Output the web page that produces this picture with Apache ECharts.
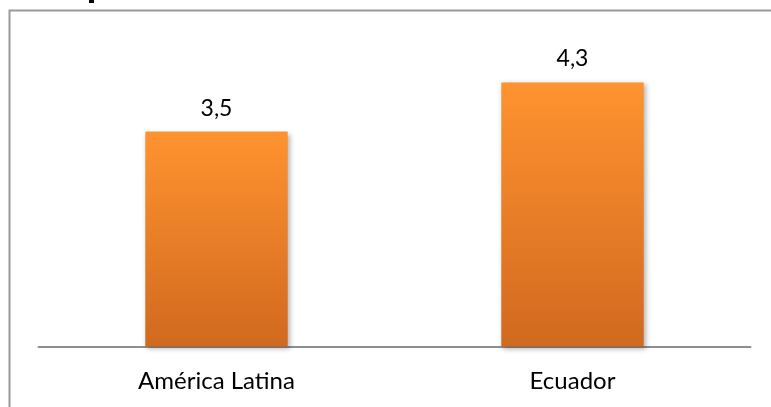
<!DOCTYPE html>
<html><head><meta charset="utf-8">
<script src="https://cdn.jsdelivr.net/npm/echarts@6/dist/echarts.min.js"></script>
<style>html,body{margin:0;padding:0;background:#fff}#c{width:771px;height:407px}</style>
</head><body><div id="c"></div>
<script>
const categories = ['América Latina', 'Ecuador'];
const values = [3.5, 4.3];

const chart = echarts.init(document.getElementById('c'), null, {renderer: 'canvas'});
chart.setOption({
  animation: false,
  backgroundColor: '#ffffff',
  graphic: [
    {type: 'rect', shape: {x: 9.5, y: 10.5, width: 900, height: 600}, style: {fill: 'none', stroke: '#9a9a9a', lineWidth: 2}},
    {type: 'rect', shape: {x: 89, y: 0, width: 5, height: 3}, style: {fill: '#000'}}
  ],
  grid: {left: 38.5, right: 20.5, top: 39.5, bottom: 60.5},
  xAxis: {
    type: 'category', data: categories,
    axisLine: {lineStyle: {color: '#8f8f8f', width: 2}},
    axisTick: {show: false},
    axisLabel: {color: '#000', fontFamily: 'Lato', fontSize: 24, margin: 23}
  },
  yAxis: {type: 'value', min: 0, max: 5, show: false, splitLine: {show: false}},
  series: [{
    type: 'bar', data: values, barWidth: '40%',
    itemStyle: {
      color: new echarts.graphic.LinearGradient(0, 0, 0, 1, [
        {offset: 0, color: '#ff9330'}, {offset: 1, color: '#d1691f'}
      ]),
      shadowColor: 'rgba(0,0,0,0.3)', shadowBlur: 5, shadowOffsetX: 2, shadowOffsetY: 2
    },
    label: {
      show: true, position: 'top', distance: 12, color: '#000',
      fontFamily: 'Lato', fontSize: 23,
      formatter: p => String(p.value).replace('.', ',')
    }
  }]
});
</script></body></html>
